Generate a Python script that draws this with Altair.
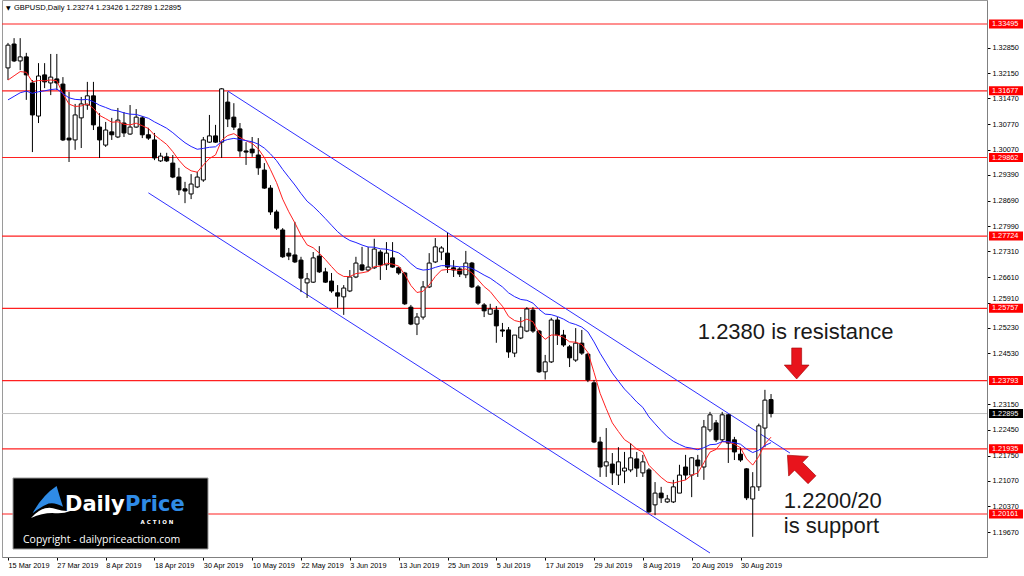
import altair as alt
import pandas as pd

# ---------------- data ----------------
OPEN = [1.3230, 1.3295, 1.3249, 1.3260, 1.3189, 1.3099, 1.3211, 1.3189, 1.3200, 1.3186,
        1.3039, 1.3034, 1.3094, 1.3129, 1.3154, 1.3069, 1.3020, 1.3056, 1.3042, 1.3080,
        1.3050, 1.3069, 1.3094, 1.3048, 1.3034, 1.2977, 1.2988, 1.2971, 1.2933, 1.2901,
        1.2887, 1.2906, 1.2925, 1.3028, 1.3045, 1.3028, 1.3137, 1.3096, 1.3064, 1.3004,
        1.3009, 1.2993, 1.2952, 1.2903, 1.2838, 1.2789, 1.2726, 1.2721, 1.2707, 1.2645,
        1.2647, 1.2718, 1.2675, 1.2650, 1.2618, 1.2607, 1.2623, 1.2661, 1.2694, 1.2680,
        1.2686, 1.2729, 1.2694, 1.2713, 1.2686, 1.2672, 1.2579, 1.2533, 1.2552, 1.2634,
        1.2702, 1.2729, 1.2726, 1.2686, 1.2683, 1.2667, 1.2699, 1.2634, 1.2585, 1.2560,
        1.2571, 1.2517, 1.2517, 1.2454, 1.2495, 1.2514, 1.2571, 1.2514, 1.2403, 1.2430,
        1.2544, 1.2503, 1.2471, 1.2435, 1.2481, 1.2451, 1.2373, 1.2212, 1.2147, 1.2152,
        1.2122, 1.2133, 1.2136, 1.2166, 1.2128, 1.2136, 1.2041, 1.2073, 1.2049, 1.2049,
        1.2073, 1.2144, 1.2122, 1.2163, 1.2144, 1.2245, 1.2264, 1.2218, 1.2286, 1.2218,
        1.2179, 1.2139, 1.2057, 1.2090, 1.2250, 1.23274]
HIGH = [1.3298, 1.3311, 1.3311, 1.3271, 1.3197, 1.3243, 1.3243, 1.3268, 1.3268, 1.3205,
        1.3165, 1.3132, 1.3151, 1.3192, 1.3192, 1.3107, 1.3083, 1.3094, 1.3121, 1.3110,
        1.3129, 1.3118, 1.3099, 1.3067, 1.3053, 1.2999, 1.2999, 1.2993, 1.2958, 1.2920,
        1.2941, 1.2947, 1.3042, 1.3102, 1.3075, 1.3175, 1.3165, 1.3134, 1.3080, 1.3028,
        1.3042, 1.3039, 1.2971, 1.2911, 1.2844, 1.2794, 1.2740, 1.2811, 1.2716, 1.2672,
        1.2729, 1.2745, 1.2686, 1.2672, 1.2639, 1.2639, 1.2680, 1.2716, 1.2743, 1.2743,
        1.2765, 1.2735, 1.2756, 1.2756, 1.2688, 1.2675, 1.2585, 1.2563, 1.2650, 1.2726,
        1.2767, 1.2745, 1.2781, 1.2707, 1.2688, 1.2732, 1.2702, 1.2639, 1.2590, 1.2588,
        1.2582, 1.2536, 1.2525, 1.2503, 1.2552, 1.2579, 1.2579, 1.2517, 1.2449, 1.2550,
        1.2552, 1.2517, 1.2476, 1.2522, 1.2517, 1.2454, 1.2381, 1.2226, 1.2250, 1.2182,
        1.2198, 1.2185, 1.2209, 1.2185, 1.2177, 1.2141, 1.2103, 1.2090, 1.2068, 1.2109,
        1.2150, 1.2177, 1.2171, 1.2177, 1.2272, 1.2294, 1.2272, 1.2294, 1.2288, 1.2226,
        1.2198, 1.2141, 1.2130, 1.2262, 1.2354, 1.23426]
LOW = [1.3197, 1.3246, 1.3224, 1.3143, 1.3001, 1.3080, 1.3175, 1.3156, 1.3170, 1.3031,
       1.2974, 1.3007, 1.3012, 1.3116, 1.3061, 1.2985, 1.3015, 1.3034, 1.3039, 1.3042,
       1.3048, 1.3067, 1.3039, 1.3034, 1.2979, 1.2974, 1.2974, 1.2930, 1.2884, 1.2862,
       1.2873, 1.2903, 1.2920, 1.3026, 1.3026, 1.2985, 1.3069, 1.3061, 1.2988, 1.2966,
       1.2988, 1.2939, 1.2901, 1.2830, 1.2789, 1.2713, 1.2707, 1.2699, 1.2620, 1.2604,
       1.2645, 1.2672, 1.2645, 1.2618, 1.2577, 1.2558, 1.2620, 1.2658, 1.2677, 1.2677,
       1.2683, 1.2653, 1.2680, 1.2686, 1.2667, 1.2585, 1.2530, 1.2503, 1.2545, 1.2631,
       1.2699, 1.2707, 1.2672, 1.2661, 1.2661, 1.2658, 1.2631, 1.2585, 1.2552, 1.2558,
       1.2482, 1.2498, 1.2441, 1.2443, 1.2492, 1.2511, 1.2509, 1.2400, 1.2382, 1.2427,
       1.2476, 1.2471, 1.2416, 1.2430, 1.2449, 1.2375, 1.2209, 1.2117, 1.2117, 1.2095,
       1.2095, 1.2100, 1.2130, 1.2117, 1.2117, 1.2019, 1.2013, 1.2046, 1.2046, 1.2046,
       1.2073, 1.2109, 1.2062, 1.2117, 1.2109, 1.2239, 1.2212, 1.2212, 1.2155, 1.2163,
       1.2158, 1.2054, 1.1954, 1.2079, 1.2198, 1.22789]
CLOSE = [1.3292, 1.3249, 1.3260, 1.3211, 1.3102, 1.3208, 1.3192, 1.3205, 1.3189, 1.3034,
         1.3034, 1.3102, 1.3132, 1.3154, 1.3075, 1.3034, 1.3061, 1.3048, 1.3088, 1.3053,
         1.3069, 1.3096, 1.3048, 1.3039, 1.2985, 1.2990, 1.2977, 1.2933, 1.2898, 1.2895,
         1.2914, 1.2933, 1.3034, 1.3045, 1.3028, 1.3173, 1.3091, 1.3069, 1.3004, 1.3001,
         1.2999, 1.2958, 1.2903, 1.2838, 1.2794, 1.2716, 1.2718, 1.2702, 1.2658, 1.2656,
         1.2713, 1.2675, 1.2647, 1.2623, 1.2609, 1.2631, 1.2661, 1.2699, 1.2680, 1.2688,
         1.2737, 1.2694, 1.2726, 1.2688, 1.2672, 1.2588, 1.2533, 1.2552, 1.2634, 1.2699,
         1.2743, 1.2740, 1.2688, 1.2680, 1.2669, 1.2699, 1.2634, 1.2590, 1.2569, 1.2574,
         1.2528, 1.2514, 1.2457, 1.2503, 1.2525, 1.2574, 1.2514, 1.2403, 1.2430, 1.2544,
         1.2503, 1.2476, 1.2441, 1.2481, 1.2454, 1.2381, 1.2212, 1.2144, 1.2158, 1.2128,
         1.2158, 1.2141, 1.2169, 1.2141, 1.2158, 1.2022, 1.2073, 1.2060, 1.2057, 1.2090,
         1.2122, 1.2122, 1.2169, 1.2147, 1.2253, 1.2286, 1.2218, 1.2286, 1.2209, 1.2185,
         1.2163, 1.2060, 1.2090, 1.2256, 1.2326, 1.22895]

TICK_BARS = [0, 8, 16, 24, 32, 40, 48, 56, 64, 72, 80, 88, 96, 104, 112, 120]
DATE_LABELS = ["15 Mar 2019", "27 Mar 2019", "8 Apr 2019", "18 Apr 2019", "30 Apr 2019",
               "10 May 2019", "22 May 2019", "3 Jun 2019", "13 Jun 2019", "25 Jun 2019",
               "5 Jul 2019", "17 Jul 2019", "29 Jul 2019", "8 Aug 2019", "20 Aug 2019",
               "30 Aug 2019"]
PRICE_TICKS = [1.18990, 1.19670, 1.20370, 1.21070, 1.21750, 1.22450, 1.23150, 1.24530,
               1.25230, 1.25910, 1.26610, 1.27310, 1.27990, 1.28690, 1.29390, 1.30070,
               1.30770, 1.31470, 1.32150, 1.32850]
LEVELS = [1.33495, 1.31677, 1.29862, 1.27724, 1.25757, 1.23793, 1.21935, 1.20161]
BID = [1.22895]

CHANNEL_NAME = ["upper", "upper", "lower", "lower"]
CHANNEL_BAR = [36.0, 128.1, 23.0, 115.0]
CHANNEL_PRICE = [1.3167, 1.2182, 1.2890, 1.1910]

EMA_FAST, EMA_SLOW = 8, 21
EMA_FAST_FIRST, EMA_SLOW_FIRST = 1.3197, 1.3143   # values of the two averages at the first bar

NOTE_TEXT = ["1.2380 is resistance", "1.2200/20", "is support"]
NOTE_BAR = [113.0, 127.1, 127.1]
NOTE_PRICE = [1.24923, 1.20325, 1.19644]
ARROW_BAR = [129.2, 129.7]
ARROW_PRICE = [1.24257, 1.21427]

# ---------------- tables ----------------
def ema(values, n, first):
    a = 2.0 / (n + 1)
    out = [first]
    for v in values[1:]:
        out.append(out[-1] + a * (v - out[-1]))
    return out

bars = list(range(len(CLOSE)))
candles = pd.DataFrame({"bar": bars, "open": OPEN, "high": HIGH, "low": LOW, "close": CLOSE})
mas = pd.DataFrame({"bar": bars,
                    "fast": ema(CLOSE, EMA_FAST, EMA_FAST_FIRST),
                    "slow": ema(CLOSE, EMA_SLOW, EMA_SLOW_FIRST)})
levels = pd.DataFrame({"level": LEVELS, "lab": [f"{v:.5f}" for v in LEVELS]})
bid = pd.DataFrame({"level": BID, "lab": [f"{v:.5f}" for v in BID]})
channel = pd.DataFrame({"name": CHANNEL_NAME, "bar": CHANNEL_BAR, "price": CHANNEL_PRICE})
notes = pd.DataFrame({"text": NOTE_TEXT, "bar": NOTE_BAR, "price": NOTE_PRICE})
arrow1 = pd.DataFrame({"bar": ARROW_BAR[:1], "price": ARROW_PRICE[:1]})
arrow2 = pd.DataFrame({"bar": ARROW_BAR[1:], "price": ARROW_PRICE[1:]})
one = pd.DataFrame({"a": [0]})

# tick labels that sit right next to a boxed level are nudged away from the box
push_up = [t for t in PRICE_TICKS if any(0 < t - l < 0.0017 for l in LEVELS + BID)]
push_dn = [t for t in PRICE_TICKS if any(0 < l - t < 0.0017 for l in LEVELS + BID)]
def near_test(vals):
    if not vals:
        return "false"
    return " || ".join(f"abs(datum.value - {v}) < 0.000001" for v in vals)
baseline_cond = {"condition": [{"test": near_test(push_up), "value": "bottom"},
                               {"test": near_test(push_dn), "value": "top"}],
                 "value": "middle"}

# ---------------- scales / axes ----------------
FONT = "Liberation Sans"
xs = alt.Scale(domain=[-0.162, 159.56], nice=False, zero=False)
ys = alt.Scale(domain=[1.18991, 1.34148], nice=False, zero=False)
label_array = "[" + ",".join(f"'{d}'" for d in DATE_LABELS) + "]"
xaxis = alt.Axis(values=TICK_BARS, labelExpr=label_array + "[round(datum.value/8)]",
                 labelAlign="left", labelBaseline="top", labelFont=FONT, labelFontSize=7.3,
                 labelColor="#000", labelPadding=1, labelFlush=False, labelOverlap=False,
                 tickSize=3, tickColor="#000", domainColor="#808080", grid=False, title=None)
yaxis = alt.Axis(orient="right", values=PRICE_TICKS, format=".5f", labelFont=FONT,
                 labelFontSize=7.3, labelColor="#000", labelPadding=2, labelOverlap=False,
                 labelBaseline=baseline_cond,
                 labelFlush=False, tickSize=3, tickColor="#000", domainColor="#808080",
                 grid=False, title=None)

def X(field):
    return alt.X(f"{field}:Q", scale=xs, axis=xaxis)

def Y(field):
    return alt.Y(f"{field}:Q", scale=ys, axis=yaxis)

# ---------------- layers ----------------
level_rules = alt.Chart(levels).mark_rule(color="#ff2020", strokeWidth=1.2).encode(y=Y("level"))
bid_rule = alt.Chart(bid).mark_rule(color="#c0c0c0", strokeWidth=1).encode(y=Y("level"))

chan = alt.Chart(channel).mark_line(color="#3030ff", strokeWidth=1).encode(
    x=X("bar"), y=Y("price"), detail="name:N")

wicks = alt.Chart(candles).mark_rule(color="#000", strokeWidth=1).encode(
    x=X("bar"), y=Y("low"), y2="high:Q")
bodies = alt.Chart(candles).mark_bar(size=4, stroke="#000", strokeWidth=1).encode(
    x=X("bar"), y=Y("open"), y2="close:Q",
    fill=alt.condition("datum.close >= datum.open", alt.value("#ffffff"), alt.value("#000000")))

fast = alt.Chart(mas).mark_line(color="#ff2020", strokeWidth=1).encode(x=X("bar"), y=Y("fast"))
slow = alt.Chart(mas).mark_line(color="#2020ff", strokeWidth=1).encode(x=X("bar"), y=Y("slow"))

lvl_box = alt.Chart(levels).mark_rule(color="#ff0000", strokeWidth=9).encode(
    x=alt.value(987), x2=alt.value(1021), y=Y("level"))
lvl_txt = alt.Chart(levels).mark_text(align="left", baseline="middle", font=FONT,
                                      fontSize=7.3, color="#ffffff").encode(
    x=alt.value(990), y=Y("level"), text="lab:N")
bid_box = alt.Chart(bid).mark_rule(color="#000000", strokeWidth=9).encode(
    x=alt.value(987), x2=alt.value(1021), y=Y("level"))
bid_txt = alt.Chart(bid).mark_text(align="left", baseline="middle", font=FONT,
                                   fontSize=7.3, color="#ffffff").encode(
    x=alt.value(990), y=Y("level"), text="lab:N")

note_txt = alt.Chart(notes).mark_text(align="left", baseline="alphabetic", font=FONT,
                                      fontSize=22, color="#1a1a1a").encode(
    x=X("bar"), y=Y("price"), text="text:N")

ARROW = "M-0.32,-1L0.32,-1L0.32,0.1L0.8,0.1L0,1L-0.8,0.1L-0.32,0.1Z"
arr1 = alt.Chart(arrow1).mark_point(shape=ARROW, filled=True, size=961, color="#e8141c",
                                    stroke="#a00000", strokeWidth=0.6, opacity=1).encode(
    x=X("bar"), y=Y("price"))
arr2 = alt.Chart(arrow2).mark_point(shape=ARROW, filled=True, size=1204, angle=135,
                                    color="#e8141c", stroke="#a00000", strokeWidth=0.6,
                                    opacity=1).encode(x=X("bar"), y=Y("price"))

title_txt = (f"GBPUSD,Daily  {OPEN[-1]:.5f} {HIGH[-1]:.5f} {LOW[-1]:.5f} {CLOSE[-1]:.5f}")
title = alt.Chart(one).mark_text(align="left", baseline="middle", font=FONT, fontSize=7.5,
                                 color="#000").encode(
    x=alt.value(12), y=alt.value(8), text=alt.value(title_txt))
tri = alt.Chart(one).mark_text(align="left", baseline="middle", font="DejaVu Sans",
                               fontSize=6, color="#000").encode(
    x=alt.value(4), y=alt.value(8), text=alt.value("▼"))

# logo (watermark)
logo_box = alt.Chart(one).mark_rect(color="#000000", stroke="#9a9a9a", strokeWidth=1).encode(
    x=alt.value(11), x2=alt.value(206), y=alt.value(478), y2=alt.value(549))
LEAF = "M-0.9,0.7Q-0.3,-0.4 0.6,-1Q0.8,-0.3 1,0.3Q0.5,0 0.1,0.1Q-0.4,0.3 -0.9,0.7Z"
WAVE = "M-1,1Q-0.2,0.1 0.6,0.45Q1,0.6 1.5,0.55Q1,0.75 0.5,0.7Q-0.2,0.65 -1,1Z"
leaf = alt.Chart(one).mark_point(shape=LEAF, filled=True, size=1024, color="#2f8be6",
                                 opacity=1).encode(x=alt.value(45), y=alt.value(502))
wave = alt.Chart(one).mark_point(shape=WAVE, filled=True, size=1024, color="#ffffff",
                                 opacity=1).encode(x=alt.value(45), y=alt.value(502))
daily = alt.Chart(one).mark_text(align="left", baseline="alphabetic", font="DejaVu Sans",
                                 fontWeight="bold", fontSize=21, color="#ffffff").encode(
    x=alt.value(63), y=alt.value(511), text=alt.value("Daily"))
price = alt.Chart(one).mark_text(align="left", baseline="alphabetic", font="DejaVu Sans",
                                 fontWeight="bold", fontSize=21, color="#2f8be6").encode(
    x=alt.value(123), y=alt.value(511), text=alt.value("Price"))
action = alt.Chart(one).mark_text(align="center", baseline="middle", font="DejaVu Sans",
                                  fontWeight="bold", fontSize=5.5, color="#ffffff").encode(
    x=alt.value(155), y=alt.value(522), text=alt.value("A  C  T  I  O  N"))
copy = alt.Chart(one).mark_text(align="left", baseline="alphabetic", font="Open Sans",
                                fontSize=10.5, color="#ffffff").encode(
    x=alt.value(21), y=alt.value(543), text=alt.value("Copyright - dailypriceaction.com"))

chart = alt.layer(
    level_rules, bid_rule, chan, wicks, bodies, fast, slow,
    lvl_box, lvl_txt, bid_box, bid_txt, note_txt, arr1, arr2,
    title, tri, logo_box, leaf, wave, daily, price, action, copy
).resolve_scale(x="shared", y="shared").properties(
    width=985, height=557,
    padding={"left": 2, "top": 0, "right": 37, "bottom": 19},
    autosize=alt.AutoSizeParams(type="none"),
    background="#ffffff",
).configure_view(stroke="#9a9a9a")

chart.save("out.html", embed_options={"renderer": "svg", "actions": False})
